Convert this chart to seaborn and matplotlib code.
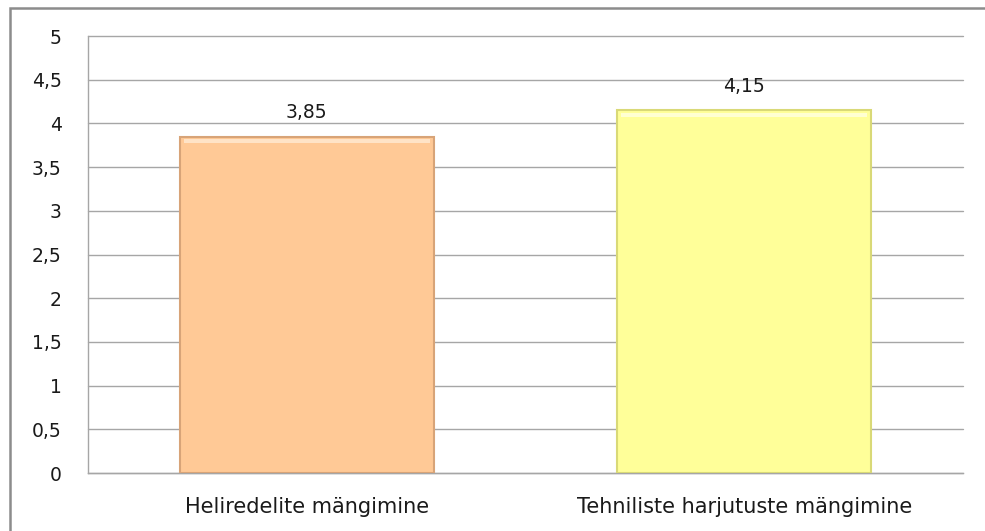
import matplotlib
matplotlib.use("Agg")
import matplotlib.pyplot as plt
import matplotlib.ticker as mticker
from matplotlib.patches import Rectangle
import seaborn as sns
import pandas as pd

# data
categories = ["Heliredelite mängimine", "Tehniliste harjutuste mängimine"]
values = [3.85, 4.15]
bar_colors = ["#FFC996", "#FFFF99"]
edge_colors = ["#D8A478", "#D9D977"]
light_colors = ["#FFE3C6", "#FFFFD2"]
y_ticks = [0, 0.5, 1, 1.5, 2, 2.5, 3, 3.5, 4, 4.5, 5]


def comma(v, _pos=None):
    s = f"{v:g}"
    return s.replace(".", ",")


df = pd.DataFrame({"kategooria": categories, "vaartus": values})

sns.set_theme(style="white")
plt.rcParams["font.family"] = ["DejaVu Sans"]

fig = plt.figure(figsize=(9.85, 5.31), dpi=100)
ax = fig.add_axes([0.0893, 0.1092, 0.8884, 0.8228])

sns.barplot(data=df, x="kategooria", y="vaartus", hue="kategooria",
            palette=bar_colors, saturation=1, legend=False, width=0.58, ax=ax,
            linewidth=1.5, zorder=3)
for patch, ec, lc in zip(ax.patches[:len(values)], edge_colors, light_colors):
    patch.set_edgecolor(ec)
    # light bevel strip along the top of the bar
    x0, w, h = patch.get_x(), patch.get_width(), patch.get_height()
    ax.add_patch(Rectangle((x0 + w * 0.015, h - 0.075), w * 0.97, 0.05,
                           facecolor=lc, edgecolor="none", zorder=4))

ax.set_ylim(0, 5)
ax.set_xlim(-0.5, 1.5)
ax.set_yticks(y_ticks)
ax.yaxis.set_major_formatter(mticker.FuncFormatter(comma))
ax.yaxis.grid(True, color="#A6A6A6", linewidth=1.0, zorder=0)
for gl in ax.get_ygridlines():
    gl.set_clip_on(False)
ax.set_axisbelow(True)
ax.set_xlabel("")
ax.set_ylabel("")
ax.tick_params(axis="both", length=0, colors="#1a1a1a")
ax.tick_params(axis="y", pad=19, labelsize=13.5)
ax.tick_params(axis="x", pad=17, labelsize=15)

for side in ["top", "right"]:
    ax.spines[side].set_visible(False)
for side in ["left", "bottom"]:
    ax.spines[side].set_color("#A6A6A6")
    ax.spines[side].set_linewidth(1.0)

for i, v in enumerate(values):
    ax.annotate(comma(v), (i, v), xytext=(0, 17), textcoords="offset points",
                ha="center", va="center", fontsize=13.5, color="#1a1a1a")

# outer chart border, clipped at right and bottom like the reference
fig.patches.append(Rectangle((10 / 985, -0.2), 1.2, 1 - 8 / 531 + 0.2,
                             transform=fig.transFigure, fill=False,
                             edgecolor="#8C8C8C", linewidth=1.8))

fig.savefig("out.png", dpi=100)
